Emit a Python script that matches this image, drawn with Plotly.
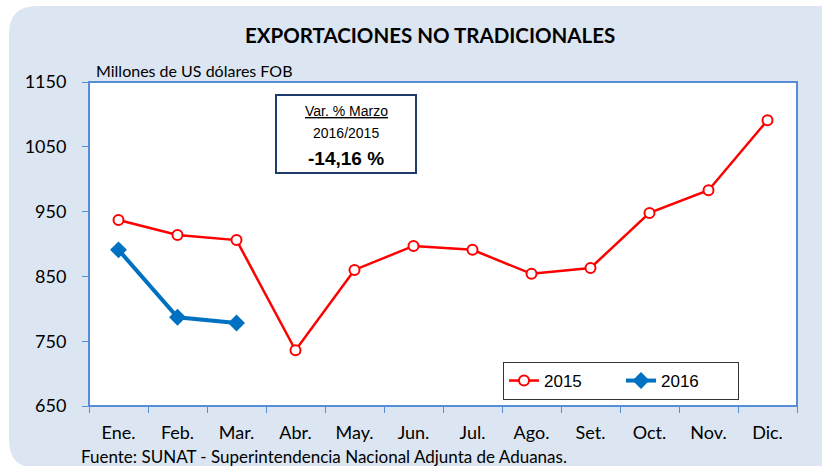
import plotly.graph_objects as go

months = ["Ene.", "Feb.", "Mar.", "Abr.", "May.", "Jun.", "Jul.", "Ago.", "Set.", "Oct.", "Nov.", "Dic."]
v2015 = [937, 914, 906, 736, 860, 897, 891, 854, 863, 948, 983, 1091]
v2016 = [891, 787, 778]
yticks = [650, 750, 850, 950, 1050, 1150]

W, H = 822, 466
L, R, T, B = 89, 25, 82, 60
pw, ph = W - L - R, H - T - B

def px(x):
    return (x - L) / pw

def py(y):
    return (H - B - y) / ph

fig = go.Figure()
fig.add_trace(go.Scatter(
    x=months, y=v2015, name="2015", mode="lines+markers",
    line=dict(color="#FF0000", width=2.5),
    marker=dict(symbol="circle", size=10, color="white", line=dict(color="#FF0000", width=2)),
))
fig.add_trace(go.Scatter(
    x=months[:len(v2016)], y=v2016, name="2016", mode="lines+markers",
    line=dict(color="#0070C0", width=4),
    marker=dict(symbol="diamond", size=13, color="#0070C0"),
))

# rounded background panel
x0, y0, x1, y1, r = 9, 6, 840, 468, 28
path = (f"M {px(x0)},{py(y0 + r)} Q {px(x0)},{py(y0)} {px(x0 + r)},{py(y0)} "
        f"L {px(x1)},{py(y0)} L {px(x1)},{py(y1)} L {px(x0 + r)},{py(y1)} "
        f"Q {px(x0)},{py(y1)} {px(x0)},{py(y1 - r)} Z")
shapes = [
    dict(type="path", xref="paper", yref="paper", path=path, fillcolor="#DCE6F2",
         line=dict(width=0), layer="below"),
    dict(type="rect", xref="paper", yref="paper", x0=0, y0=0, x1=1, y1=1,
         fillcolor="white", line=dict(color="#558ED5", width=2), layer="below"),
    dict(type="rect", xref="paper", yref="paper", x0=px(276), x1=px(416), y0=py(173), y1=py(95),
         fillcolor="white", line=dict(color="#1F3B6E", width=2)),
]

def ann(text, x, y, size, family="Lato", xanchor="center"):
    return dict(text=text, xref="paper", yref="paper", x=px(x), y=py(y),
                xanchor=xanchor, yanchor="middle", showarrow=False,
                font=dict(family=family, size=size, color="black"))

annotations = [
    ann("<b>EXPORTACIONES NO TRADICIONALES</b>", 430, 35, 20.5),
    ann("Millones de US dólares FOB", 94, 70, 16, xanchor="left"),
    ann("Fuente: SUNAT - Superintendencia Nacional Adjunta de Aduanas.", 79, 456, 17, xanchor="left"),
    ann("<u>Var. % Marzo</u>", 346, 111, 14, family="Arial"),
    ann("2016/2015", 346, 133, 14, family="Arial"),
    ann("<b>-14,16 %</b>", 346, 158, 19, family="Arial"),
]

fig.update_layout(
    width=W, height=H,
    margin=dict(l=L, r=R, t=T, b=B),
    paper_bgcolor="white", plot_bgcolor="rgba(0,0,0,0)",
    shapes=shapes, annotations=annotations,
    showlegend=True,
    legend=dict(orientation="h", x=px(503), y=py(362), xanchor="left", yanchor="top",
                bgcolor="white", bordercolor="#333333", borderwidth=1,
                font=dict(family="Arial", size=17, color="black"),
                entrywidth=72, entrywidthmode="pixels", tracegroupgap=0),
    xaxis=dict(type="category", categoryorder="array", categoryarray=months,
               range=[-0.5, 11.5], showgrid=False, showline=False,
               ticks="outside", tickson="boundaries", ticklen=6, tickcolor="#558ED5",
               tickfont=dict(family="Lato", size=18, color="black"), ticklabelstandoff=14),
    yaxis=dict(range=[650, 1150], tickvals=yticks, showgrid=False, showline=False,
               ticks="outside", ticklen=6, tickcolor="#558ED5",
               tickfont=dict(family="Lato", size=18, color="black"), zeroline=False,
               ticklabelstandoff=12),
)

fig.write_html("out.html", config={"displayModeBar": False},
               post_script="document.body.style.margin='0';")
